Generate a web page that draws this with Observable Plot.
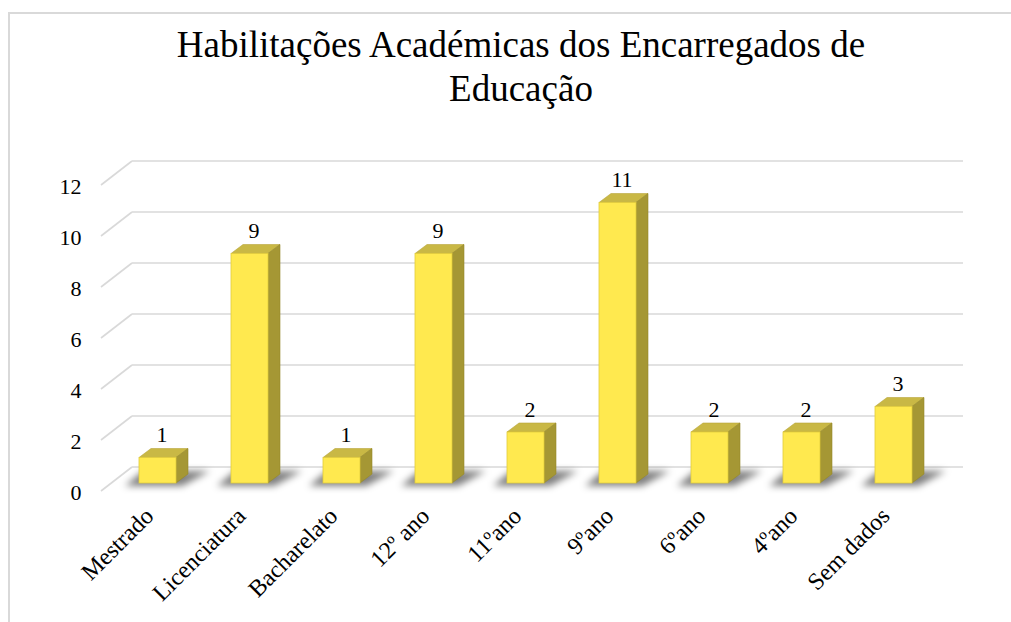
<!DOCTYPE html>
<html><head><meta charset="utf-8">
<script src="https://cdn.jsdelivr.net/npm/d3@7"></script>
<script src="https://cdn.jsdelivr.net/npm/@observablehq/plot@0.6"></script>
<style>
body{margin:0;background:#fff;}
#wrap{position:relative;width:1011px;height:622px;overflow:hidden;background:#fff;}
#frame{position:absolute;left:8px;top:12px;width:1100px;height:700px;border:2px solid #d9d9d9;box-sizing:border-box;}
#title{position:absolute;left:0;width:1042px;top:23px;text-align:center;font-family:"Liberation Serif","Times New Roman",serif;font-size:37px;line-height:44px;color:#000;}
#chart{position:absolute;left:0;top:0;}
#chart svg text{font-family:"Liberation Serif","Times New Roman",serif !important;}
</style>
</head><body>
<div id="wrap"><div id="frame"></div><div id="title"></div><div id="chart"></div></div>
<script>
const titleLines = ["Habilitações Académicas dos Encarregados de", "Educação"];
const categories = ["Mestrado","Licenciatura","Bacharelato","12º ano","11ºano","9ºano","6ºano","4ºano","Sem dados"];
const values = [1,9,1,9,2,11,2,2,3];
const yTicks = [0,2,4,6,8,10,12];

const data = categories.map((c,i)=>({cat:c, value:values[i]}));
const FONT = "Liberation Serif, Times New Roman, serif";
const FRONT = "#FFE94F", TOP = "#C9B845", SIDE = "#A59734";
const DX = 12, DY = -9;      // bar depth
const WX = 31, WFRONT = 8, WBACK = -16; // wall depth

document.getElementById("title").innerHTML = titleLines.join("<br>");

function gridRender(index, scales, vals, dims) {
  const g = d3.create("svg:g").attr("stroke", "#d9d9d9").attr("stroke-width", 1.6).attr("fill","none");
  const xl = dims.marginLeft, xr = dims.width - dims.marginRight;
  for (const i of index) {
    const y = vals.y[i];
    g.append("line").attr("x1", xl + WX).attr("x2", xr).attr("y1", y + WBACK).attr("y2", y + WBACK);
    g.append("line").attr("x1", xl).attr("x2", xl + WX).attr("y1", y + WFRONT).attr("y2", y + WBACK);
  }
  return g.node();
}

function barsRender(index, scales, vals, dims, ctx, next) {
  const base = next(index, scales, vals, dims, ctx);
  const rects = Array.from(base.querySelectorAll("rect"));
  const out = d3.create("svg:g");
  const defs = out.append("defs");
  const f = defs.append("filter").attr("id","shblur").attr("x","-50%").attr("y","-100%").attr("width","200%").attr("height","300%");
  f.append("feGaussianBlur").attr("stdDeviation", 3.5);
  const shadows = out.append("g").attr("filter","url(#shblur)");
  const faces = out.append("g");
  for (const r of rects) {
    const x = +r.getAttribute("x"), y = +r.getAttribute("y");
    const w = +r.getAttribute("width"), h = +r.getAttribute("height");
    const y0 = y + h, x2 = x + w;
    shadows.append("polygon")
      .attr("points", [[x-14,y0+3],[x2+6,y0+3],[x2+34,y0-12],[x+4,y0-12]].map(p=>p.join(",")).join(" "))
      .attr("fill","#000").attr("fill-opacity",0.5);
    faces.append("polygon")
      .attr("points", [[x,y],[x+DX,y+DY],[x2+DX,y+DY],[x2,y]].map(p=>p.join(",")).join(" "))
      .attr("fill", TOP).attr("stroke","#B8A63A").attr("stroke-width",0.6);
    faces.append("polygon")
      .attr("points", [[x2,y],[x2+DX,y+DY],[x2+DX,y0+DY],[x2,y0]].map(p=>p.join(",")).join(" "))
      .attr("fill", SIDE).attr("stroke","#958828").attr("stroke-width",0.6);
    faces.append("rect").attr("x",x).attr("y",y).attr("width",w).attr("height",h)
      .attr("fill", FRONT).attr("stroke","#E2CC3C").attr("stroke-width",0.8);
  }
  return out.node();
}

const chart = Plot.plot({
  width: 1011,
  height: 622,
  marginTop: 177,
  marginBottom: 139,
  marginLeft: 101,
  marginRight: 48,
  style: {background: "transparent", fontFamily: FONT, color: "#000"},
  x: {type: "band", domain: categories, range: [83.9, 967.1], padding: 0.6, axis: null},
  y: {domain: [0, 12], axis: null},
  marks: [
    Plot.ruleY(yTicks, {y: d => d, render: gridRender}),
    Plot.barY(data, {x: "cat", y: "value", fill: FRONT, render: barsRender}),
    Plot.text(data, {x: "cat", y: "value", text: d => String(d.value), dx: 4, dy: -23, fontSize: 22, fontFamily: FONT, fill: "#000"}),
    Plot.text(yTicks, {y: d => d, text: d => String(d), frameAnchor: "left", textAnchor: "end", dx: -20, dy: 9.5, fontSize: 22, fontFamily: FONT, fill: "#000"}),
    Plot.text(data, {x: "cat", text: "cat", frameAnchor: "bottom", rotate: -45, textAnchor: "end", dx: -3, dy: 34, fontSize: 24, fontFamily: FONT, fill: "#000"})
  ]
});
document.getElementById("chart").appendChild(chart);
</script>
</body></html>
